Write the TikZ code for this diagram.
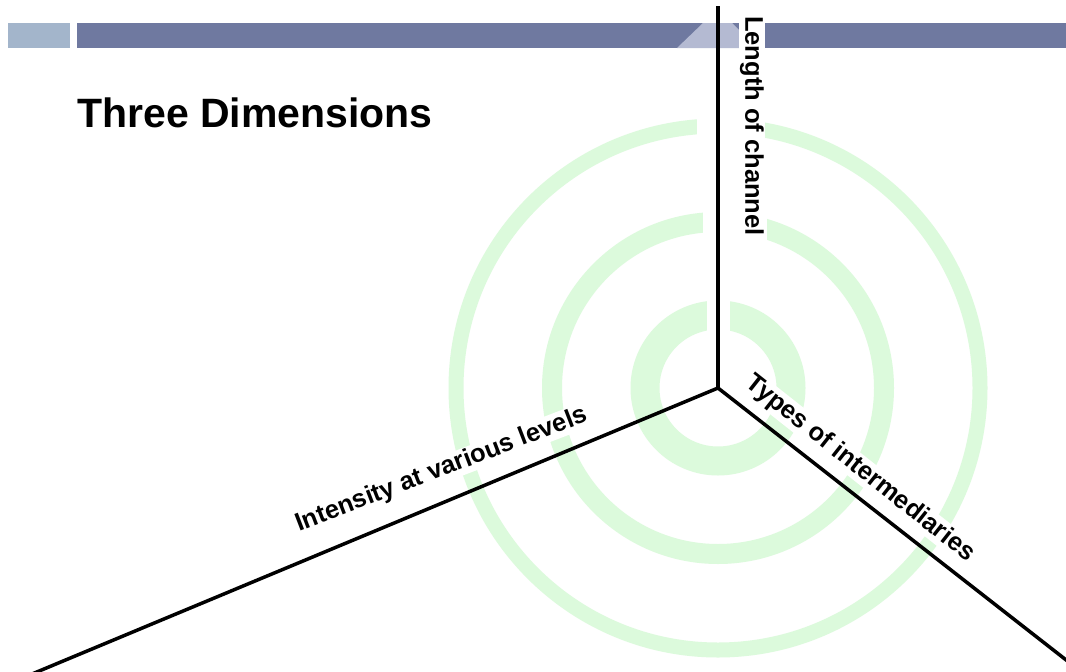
\documentclass[tikz,border=0pt]{standalone}
\usepackage{fontspec}
\setmainfont{Liberation Sans}
\definecolor{barlight}{RGB}{163,181,203}
\definecolor{bardark}{RGB}{111,121,160}
\definecolor{bartri}{RGB}{180,186,210}
\definecolor{ringgreen}{RGB}{220,250,220}
\tikzset{
  ringline/.style={draw=ringgreen},
  mask/.style={fill=white},
  axis/.style={draw=black, line width=3.5pt},
  lbl/.style={font=\fontsize{25.5}{30}\selectfont\bfseries, fill=white, inner sep=1pt},
  titlestyle/.style={font=\fontsize{41}{48}\selectfont\bfseries, inner sep=0pt, anchor=base west}
}
\begin{document}
\begin{tikzpicture}[x=1pt,y=-1pt]
\useasboundingbox (0,0) rectangle (1066,672);
\fill[white] (0,0) rectangle (1066,672);
% top bar
\fill[barlight] (8,23) rectangle (70,48);
\fill[bardark] (77,23) rectangle (1066,48);
\fill[bartri] (677,48) -- (703,23) -- (732,23) -- (757,48) -- cycle;
% title
\node[titlestyle] (title) at (77,127) {Three Dimensions};
% rings
\coordinate (O) at (718,388);
\draw[ringline, line width=15pt] (O) circle[radius=262];
\draw[ringline, line width=20pt] (O) circle[radius=166];
\draw[ringline, line width=29pt] (O) circle[radius=73];
% gaps
\fill[mask] (697,108) rectangle (757,142);
\fill[mask] (703,203) rectangle (767,240);
\fill[mask] (707,295) rectangle (730,340);
% axes
\coordinate (T) at (718,6);
\coordinate (L) at (20,679);
\coordinate (R) at (1070,663);
\draw[axis] (T) -- (O);
\draw[axis] (O) -- (L);
\draw[axis] (O) -- (R);
% labels
\node[lbl, rotate=-90] (len) at (752,126) {Length of channel};
\node[lbl, rotate=21, anchor=base] (int) at (444,476) {Intensity at various levels};
\node[lbl, rotate=-38.3, anchor=base] (typ) at (856,474) {Types of intermediaries};
\end{tikzpicture}
\end{document}
